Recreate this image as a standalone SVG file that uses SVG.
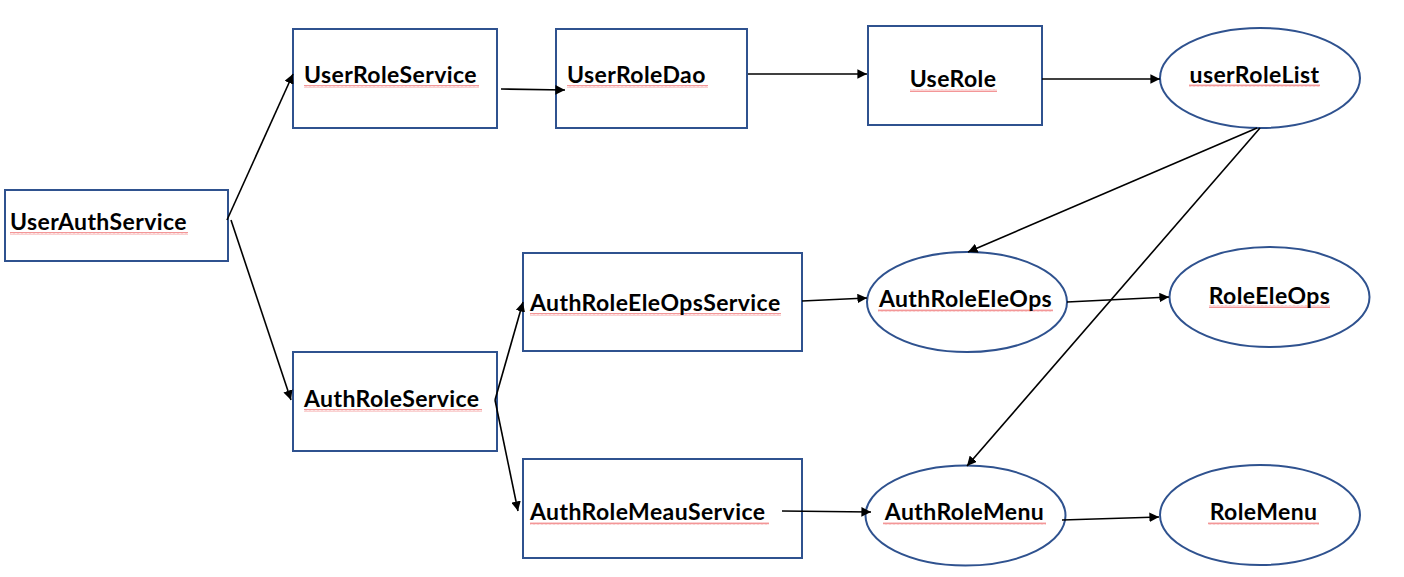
<svg xmlns="http://www.w3.org/2000/svg" width="1404" height="577" viewBox="0 0 1404 577">
<style>
.box{fill:#fff;stroke:#2F528F;stroke-width:2}
.t{font-family:Lato,"Liberation Sans",sans-serif;font-weight:bold;font-size:23px;letter-spacing:0.4px;fill:#000}
.c{stroke:#000;stroke-width:1.6;fill:none;marker-end:url(#ah)}
.sq{fill:url(#wave)}
</style>
<defs>
<marker id="ah" viewBox="0 0 10 10" refX="10" refY="5" markerWidth="6" markerHeight="6" orient="auto" markerUnits="strokeWidth">
<path d="M0,0 L10,5 L0,10 z" fill="#000"/>
</marker>
<pattern id="wave" width="4" height="3" patternUnits="userSpaceOnUse">
<path d="M0,2.5 L1,0.5 L2,2.5 L3,0.5 L4,2.5" stroke="#EE6A6C" stroke-width="0.7" fill="none"/>
</pattern>
</defs>
<rect width="1404" height="577" fill="#fff"/>
<g id="UserAuthService">
<rect class="box" x="5" y="190" width="223" height="71"/>
<rect class="sq" x="10" y="232" width="178" height="3"/>
<text class="t" x="10" y="230">UserAuthService</text>
</g>
<g id="UserRoleService">
<rect class="box" x="293" y="29" width="204" height="99"/>
<rect class="sq" x="304" y="85" width="175" height="3"/>
<text class="t" x="304" y="83">UserRoleService</text>
</g>
<g id="UserRoleDao">
<rect class="box" x="556" y="29" width="191" height="99"/>
<rect class="sq" x="567" y="85" width="141" height="3"/>
<text class="t" x="567" y="83">UserRoleDao</text>
</g>
<g id="UseRole">
<rect class="box" x="868" y="26" width="174" height="99"/>
<rect class="sq" x="910" y="89" width="87" height="3"/>
<text class="t" x="953" y="87" text-anchor="middle">UseRole</text>
</g>
<g id="userRoleList">
<ellipse class="box" cx="1260" cy="78" rx="100" ry="50"/>
<rect class="sq" x="1189" y="84" width="131" height="3"/>
<text class="t" x="1254.5" y="83" text-anchor="middle">userRoleList</text>
</g>
<g id="AuthRoleService">
<rect class="box" x="293" y="352" width="204" height="99"/>
<rect class="sq" x="304" y="409" width="178" height="3"/>
<text class="t" x="304" y="407">AuthRoleService</text>
</g>
<g id="AuthRoleEleOpsService">
<rect class="box" x="523" y="253" width="279" height="98"/>
<rect class="sq" x="530" y="313" width="251" height="3"/>
<text class="t" x="530" y="311">AuthRoleEleOpsService</text>
</g>
<g id="AuthRoleMeauService">
<rect class="box" x="523" y="459" width="279" height="99"/>
<rect class="sq" x="530" y="522" width="239" height="3"/>
<text class="t" x="530" y="520">AuthRoleMeauService</text>
</g>
<g id="AuthRoleEleOps">
<ellipse class="box" cx="967" cy="302" rx="100" ry="50"/>
<rect class="sq" x="878" y="309" width="175" height="3"/>
<text class="t" x="965.5" y="307" text-anchor="middle">AuthRoleEleOps</text>
</g>
<g id="RoleEleOps">
<ellipse class="box" cx="1269.5" cy="297" rx="100" ry="50"/>
<rect class="sq" x="1209" y="305" width="121" height="3"/>
<text class="t" x="1269.5" y="304" text-anchor="middle">RoleEleOps</text>
</g>
<g id="AuthRoleMenu">
<ellipse class="box" cx="965.5" cy="515.5" rx="100" ry="50"/>
<rect class="sq" x="883" y="522" width="163" height="3"/>
<text class="t" x="964.5" y="520" text-anchor="middle">AuthRoleMenu</text>
</g>
<g id="RoleMenu">
<ellipse class="box" cx="1260" cy="515" rx="100" ry="50"/>
<rect class="sq" x="1208" y="522" width="111" height="3"/>
<text class="t" x="1263.5" y="520" text-anchor="middle">RoleMenu</text>
</g>
<g id="connectors">
<line class="c" x1="227" y1="220" x2="293" y2="74"/>
<line class="c" x1="231" y1="220" x2="291" y2="400"/>
<line class="c" x1="501" y1="89" x2="565" y2="90"/>
<line class="c" x1="748" y1="74" x2="867" y2="74"/>
<line class="c" x1="1042" y1="79" x2="1160" y2="79"/>
<line class="c" x1="1257" y1="128" x2="968" y2="252"/>
<line class="c" x1="1260" y1="128" x2="967" y2="466"/>
<line class="c" x1="495" y1="400" x2="523" y2="302"/>
<line class="c" x1="495" y1="400" x2="518" y2="511"/>
<line class="c" x1="802" y1="301" x2="867" y2="298"/>
<line class="c" x1="1067" y1="302" x2="1169" y2="297"/>
<line class="c" x1="782" y1="511" x2="871" y2="512"/>
<line class="c" x1="1062" y1="520" x2="1159" y2="517"/>
</g>
</svg>
